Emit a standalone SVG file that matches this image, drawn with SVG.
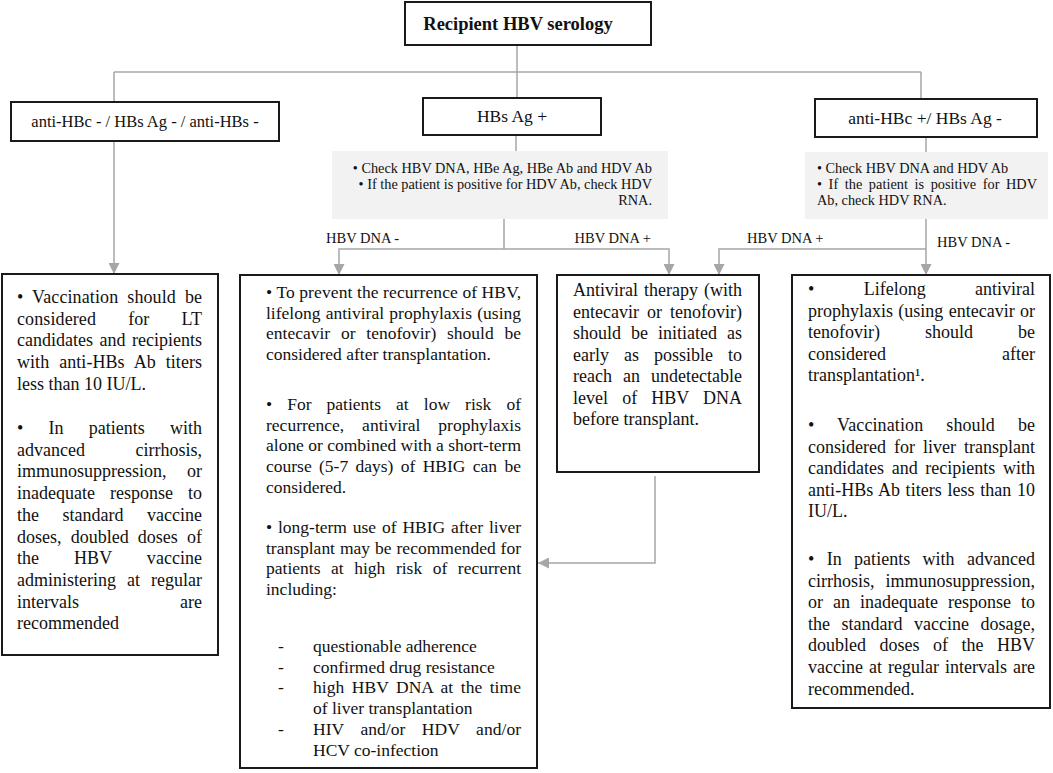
<svg xmlns="http://www.w3.org/2000/svg" width="1053" height="773" viewBox="0 0 1053 773">
<style>
.box{fill:#fff;stroke:#1a1a1a;stroke-width:2}
.gray{fill:#f2f2f2;stroke:none}
.t{font-family:"Liberation Serif","Times New Roman",serif;fill:#111}
.hd{font-size:16.5px;text-anchor:middle}
.hd2{font-size:17.5px;text-anchor:middle}
.ti{font-size:18.5px;font-weight:bold;text-anchor:middle}
.b18{font-size:18px}
.b175{font-size:17.5px}
.sm{font-size:14.3px}
.lb{font-size:14.5px}
.conn{fill:none;stroke:#a6a6a6;stroke-width:1.5}
</style>
<defs>
<marker id="arr" markerUnits="userSpaceOnUse" markerWidth="11" markerHeight="11" refX="10" refY="5" orient="auto" viewBox="0 0 10 10">
<path d="M0,0 L10,5 L0,10 z" fill="#a6a6a6"/>
</marker>
</defs>
<g id="connectors">
<path class="conn" d="M517,45 V72"/>
<path class="conn" d="M114,72 H921"/>
<path class="conn" d="M114,72 V102"/>
<path class="conn" d="M517,72 V98"/>
<path class="conn" d="M921,72 V99"/>
<path class="conn" d="M114,141 V274" marker-end="url(#arr)"/>
<path class="conn" d="M516,135 V151"/>
<path class="conn" d="M926,137 V152"/>
<path class="conn" d="M504,219 V249"/>
<path class="conn" d="M504,249 H339 V275" marker-end="url(#arr)"/>
<path class="conn" d="M504,249 H669 V275" marker-end="url(#arr)"/>
<path class="conn" d="M926,219 V275" marker-end="url(#arr)"/>
<path class="conn" d="M926,249 H719 V275" marker-end="url(#arr)"/>
<path class="conn" d="M655,476 V563 H538" marker-end="url(#arr)"/>
<text class="t lb" x="326" y="243">HBV DNA -</text>
<text class="t lb" x="651" y="243" text-anchor="end">HBV DNA +</text>
<text class="t lb" x="747" y="243">HBV DNA +</text>
<text class="t lb" x="937" y="247">HBV DNA -</text>
</g>
<g id="title">
<rect class="box" x="405" y="2" width="246" height="43"/>
<text class="t ti" x="518" y="30">Recipient HBV serology</text>
</g>
<g id="neg">
<rect class="box" x="11" y="102" width="268" height="39"/>
<text class="t hd" x="145" y="127">anti-HBc - / HBs Ag - / anti-HBs -</text>
</g>
<g id="hbsag">
<rect class="box" x="423" y="98" width="178" height="37"/>
<text class="t hd2" x="512" y="122">HBs Ag +</text>
</g>
<g id="antihbc">
<rect class="box" x="815" y="99" width="222" height="38"/>
<text class="t hd2" x="925" y="124">anti-HBc +/ HBs Ag -</text>
</g>
<g id="check-mid">
<rect class="gray" x="332" y="151" width="336" height="68"/>
<text class="t sm" x="652" y="173" text-anchor="end">• Check HBV DNA, HBe Ag, HBe Ab and HDV Ab</text>
<text class="t sm" x="652" y="189" text-anchor="end">• If the patient is positive for HDV Ab, check HDV</text>
<text class="t sm" x="652" y="205" text-anchor="end">RNA.</text>
</g>
<g id="check-right">
<rect class="gray" x="805" y="152" width="243" height="67"/>
<text class="t sm" x="817" y="173">• Check HBV DNA and HDV Ab</text>
<text class="t sm" x="817" y="189" textLength="220" lengthAdjust="spacing" word-spacing="3">• If the patient is positive for HDV</text>
<text class="t sm" x="817" y="205">Ab, check HDV RNA.</text>
</g>
<g id="vaccination-left">
<rect class="box" x="2" y="274" width="216" height="381"/>
<g class="t b18">
<text x="17" y="303" textLength="185" lengthAdjust="spacing" word-spacing="4.4">• Vaccination should be</text>
<text x="17" y="324.7" textLength="185" lengthAdjust="spacing" word-spacing="27.5">considered for LT</text>
<text x="17" y="346.4" textLength="185" lengthAdjust="spacing" word-spacing="2">candidates and recipients</text>
<text x="17" y="368.1" textLength="185" lengthAdjust="spacing" word-spacing="5.5">with anti-HBs Ab titers</text>
<text x="17" y="389.8">less than 10 IU/L.</text>
<text x="17" y="434" textLength="185" lengthAdjust="spacing" word-spacing="20.7">• In patients with</text>
<text x="17" y="455.7" textLength="185" lengthAdjust="spacing" word-spacing="46">advanced cirrhosis,</text>
<text x="17" y="477.4" textLength="185" lengthAdjust="spacing" word-spacing="16">immunosuppression, or</text>
<text x="17" y="499.1" textLength="185" lengthAdjust="spacing" word-spacing="10.5">inadequate response to</text>
<text x="17" y="520.8" textLength="185" lengthAdjust="spacing" word-spacing="19">the standard vaccine</text>
<text x="17" y="542.5" textLength="185" lengthAdjust="spacing" word-spacing="4.7">doses, doubled doses of</text>
<text x="17" y="564.2" textLength="185" lengthAdjust="spacing" word-spacing="30.5">the HBV vaccine</text>
<text x="17" y="585.9" textLength="185" lengthAdjust="spacing" word-spacing="6.5">administering at regular</text>
<text x="17" y="607.6" textLength="185" lengthAdjust="spacing" word-spacing="96.5">intervals are</text>
<text x="17" y="629.3">recommended</text>
</g>
</g>
<g id="prophylaxis-mid">
<rect class="box" x="240" y="275" width="297" height="493"/>
<g class="t b175">
<text x="266" y="298" textLength="255" lengthAdjust="spacing">• To prevent the recurrence of HBV,</text>
<text x="266" y="318.7" textLength="255" lengthAdjust="spacing" word-spacing="0.9">lifelong antiviral prophylaxis (using</text>
<text x="266" y="339.4" textLength="255" lengthAdjust="spacing" word-spacing="6.4">entecavir or tenofovir) should be</text>
<text x="266" y="360.1">considered after transplantation.</text>
<text x="266" y="410" textLength="255" lengthAdjust="spacing" word-spacing="10.7">• For patients at low risk of</text>
<text x="266" y="430.7" textLength="255" lengthAdjust="spacing" word-spacing="13.5">recurrence, antiviral prophylaxis</text>
<text x="266" y="451.4" textLength="255" lengthAdjust="spacing">alone or combined with a short-term</text>
<text x="266" y="472.1" textLength="255" lengthAdjust="spacing" word-spacing="3">course (5-7 days) of HBIG can be</text>
<text x="266" y="492.8">considered.</text>
<text x="266" y="533" textLength="255" lengthAdjust="spacing" word-spacing="1.5">• long-term use of HBIG after liver</text>
<text x="266" y="553.7" textLength="255" lengthAdjust="spacing" word-spacing="0.6">transplant may be recommended for</text>
<text x="266" y="574.4" textLength="255" lengthAdjust="spacing" word-spacing="6.2">patients at high risk of recurrent</text>
<text x="266" y="595.1">including:</text>
<text x="278" y="652">-</text><text x="313" y="652">questionable adherence</text>
<text x="278" y="672.7">-</text><text x="313" y="672.7">confirmed drug resistance</text>
<text x="278" y="693.4">-</text><text x="313" y="693.4" textLength="208" lengthAdjust="spacing" word-spacing="3">high HBV DNA at the time</text>
<text x="313" y="714.1">of liver transplantation</text>
<text x="278" y="734.8">-</text><text x="313" y="734.8" textLength="208" lengthAdjust="spacing" word-spacing="12.1">HIV and/or HDV and/or</text>
<text x="313" y="755.5">HCV co-infection</text>
</g>
</g>
<g id="antiviral">
<rect class="box" x="557" y="275" width="202" height="197"/>
<g class="t b18">
<text x="573" y="296" textLength="169" lengthAdjust="spacing" word-spacing="1.5">Antiviral therapy (with</text>
<text x="573" y="317.5" textLength="169" lengthAdjust="spacing" word-spacing="3.5">entecavir or tenofovir)</text>
<text x="573" y="339" textLength="169" lengthAdjust="spacing" word-spacing="5.5">should be initiated as</text>
<text x="573" y="360.5" textLength="169" lengthAdjust="spacing" word-spacing="10.5">early as possible to</text>
<text x="573" y="382" textLength="169" lengthAdjust="spacing" word-spacing="6.5">reach an undetectable</text>
<text x="573" y="403.5" textLength="169" lengthAdjust="spacing" word-spacing="9.5">level of HBV DNA</text>
<text x="573" y="425">before transplant.</text>
</g>
</g>
<g id="lifelong-right">
<rect class="box" x="792" y="275" width="258" height="433"/>
<g class="t b18">
<text x="808" y="295" textLength="227" lengthAdjust="spacing" word-spacing="44.9">• Lifelong antiviral</text>
<text x="808" y="316.6" textLength="227" lengthAdjust="spacing" word-spacing="0.8">prophylaxis (using entecavir or</text>
<text x="808" y="338.2" textLength="227" lengthAdjust="spacing" word-spacing="40.5">tenofovir) should be</text>
<text x="808" y="359.8" textLength="227" lengthAdjust="spacing" word-spacing="111.5">considered after</text>
<text x="808" y="381.4">transplantation¹.</text>
<text x="808" y="431" textLength="227" lengthAdjust="spacing" word-spacing="18.4">• Vaccination should be</text>
<text x="808" y="452.6" textLength="227" lengthAdjust="spacing" word-spacing="3.5">considered for liver transplant</text>
<text x="808" y="474.2" textLength="227" lengthAdjust="spacing" word-spacing="3.2">candidates and recipients with</text>
<text x="808" y="495.8" textLength="227" lengthAdjust="spacing" word-spacing="1.1">anti-HBs Ab titers less than 10</text>
<text x="808" y="517.4">IU/L.</text>
<text x="808" y="565" textLength="227" lengthAdjust="spacing" word-spacing="7.9">• In patients with advanced</text>
<text x="808" y="586.6" textLength="227" lengthAdjust="spacing" word-spacing="6.5">cirrhosis, immunosuppression,</text>
<text x="808" y="608.2" textLength="227" lengthAdjust="spacing" word-spacing="5.5">or an inadequate response to</text>
<text x="808" y="629.8" textLength="227" lengthAdjust="spacing" word-spacing="7">the standard vaccine dosage,</text>
<text x="808" y="651.4" textLength="227" lengthAdjust="spacing" word-spacing="9">doubled doses of the HBV</text>
<text x="808" y="673" textLength="227" lengthAdjust="spacing" word-spacing="1.5">vaccine at regular intervals are</text>
<text x="808" y="694.6">recommended.</text>
</g>
</g>
</svg>
